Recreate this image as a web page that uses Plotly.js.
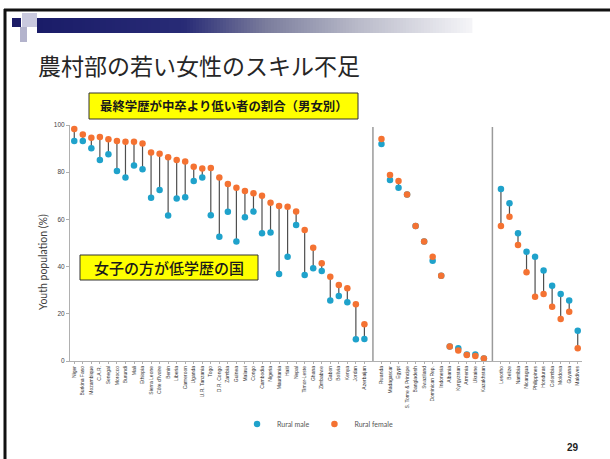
<!DOCTYPE html>
<html>
<head>
<meta charset="utf-8">
<script src="https://cdn.plot.ly/plotly-3.0.1.min.js"></script>
<style>
  html, body { margin: 0; padding: 0; background: #ffffff; }
  #chart { width: 610px; height: 459px; }
</style>
</head>
<body>
<div id="chart"></div>
<script>
// Share of rural youth whose highest education is below lower secondary (%)

// Group 1: countries where young women are less educated
const group1Countries = [
  "Niger", "Burkina Faso", "Mozambique", "C.A.R.", "Senegal", "Morocco", "Burundi",
  "Mali", "Ethiopia", "Sierra Leone", "Côte d'Ivoire", "Benin", "Liberia", "Cameroon",
  "Uganda", "U.R. Tanzania", "Togo", "D.R. Congo", "Zambia", "Guinea", "Malawi",
  "Congo", "Cambodia", "Nigeria", "Mauritania", "Haiti", "Nepal", "Timor-Leste",
  "Ghana", "Zimbabwe", "Gabon", "Bolivia", "Kenya", "Jordan", "Azerbaijan"
];
const group1Male = [93.2, 93.2, 90.1, 85.2, 87.6, 80.5, 77.8, 82.8, 81.2, 69.2, 72.5, 61.6,
  68.9, 69.4, 76.3, 77.8, 61.8, 52.7, 63.2, 50.6, 60.9, 63.3, 54.1, 54.4, 36.9, 44.2, 57.6,
  36.4, 39.3, 38.1, 25.6, 27.5, 24.9, 9.2, 9.3];
const group1Female = [98.3, 96.0, 94.6, 94.9, 94.0, 93.2, 92.9, 92.9, 92.2, 88.3, 87.8, 86.3,
  85.2, 84.5, 82.3, 81.6, 81.8, 77.8, 75.0, 73.4, 72.0, 71.1, 70.0, 67.1, 65.7, 65.4, 63.3,
  55.5, 48.0, 41.4, 35.7, 32.2, 30.8, 24.0, 15.6];

// Group 2: little or no gap between men and women
const group2Countries = [
  "Rwanda", "Madagascar", "Egypt", "S. Tome & Principe", "Bangladesh", "Swaziland",
  "Dominican Rep.", "Indonesia", "Albania", "Kyrgyzstan", "Armenia", "Ukraine", "Kazakhstan"
];
const group2Male = [91.9, 76.7, 73.4, 70.6, 57.2, 50.6, 42.5, 36.1, 6.1, 5.4, 2.8, 2.8, 1.1];
const group2Female = [94.1, 78.8, 76.3, 70.6, 57.2, 50.6, 44.2, 36.1, 6.1, 4.4, 2.5, 2.1, 1.1];

// Group 3: young men are less educated
const group3Countries = [
  "Lesotho", "Belize", "Namibia", "Nicaragua", "Philippines", "Honduras",
  "Colombia", "Moldova", "Guyana", "Maldives"
];
const group3Male = [72.9, 66.8, 54.1, 46.3, 44.2, 38.3, 31.9, 28.4, 25.6, 12.8];
const group3Female = [57.2, 61.1, 49.2, 37.6, 27.2, 28.4, 23.0, 17.8, 20.9, 5.4];

const yTicks = [0, 20, 40, 60, 80, 100];

// ---- assemble positions: each group sits after a one-slot gap with a divider
const groups = [
  { names: group1Countries, male: group1Male, female: group1Female },
  { names: group2Countries, male: group2Male, female: group2Female },
  { names: group3Countries, male: group3Male, female: group3Female }
];
const xs = [], names = [], males = [], females = [], dividers = [];
let pos = 0;
groups.forEach((g, gi) => {
  if (gi > 0) { dividers.push(pos); pos += 1; }
  g.names.forEach((n, i) => {
    xs.push(pos); names.push(n); males.push(g.male[i]); females.push(g.female[i]);
    pos += 1;
  });
});

// connector segments between the two values of each country
const segX = [], segY = [];
xs.forEach((x, i) => { segX.push(x, x, null); segY.push(males[i], females[i], null); });

const maleColor = '#1fa2cb';
const femaleColor = '#f47232';

const traces = [
  { x: segX, y: segY, mode: 'lines', line: { color: '#4f4f4f', width: 1.2 },
    hoverinfo: 'skip', showlegend: false },
  { x: xs, y: males, name: 'Rural male', mode: 'markers',
    marker: { color: maleColor, size: 6.5 } },
  { x: xs, y: females, name: 'Rural female', mode: 'markers',
    marker: { color: femaleColor, size: 6.5 } }
];

// ---- slide geometry helpers (pixel -> paper)
const W = 610, H = 459;
const M = { l: 70, r: 28, t: 125, b: 98 };
const PW = W - M.l - M.r, PH = H - M.t - M.b;
const px = v => (v - M.l) / PW;
const py = v => (H - M.b - v) / PH;

const shapes = [];
const annotations = [];

// frame of the slide
shapes.push({ type: 'line', xref: 'paper', yref: 'paper', x0: px(4), x1: px(612), y0: py(10), y1: py(10),
  line: { color: '#111111', width: 3 } });
shapes.push({ type: 'line', xref: 'paper', yref: 'paper', x0: px(5), x1: px(5), y0: py(9), y1: py(462),
  line: { color: '#111111', width: 3 } });

// header ornament: squares and fading bar
function rectPx(x0, y0, x1, y1, color) {
  shapes.push({ type: 'rect', xref: 'paper', yref: 'paper', x0: px(x0), x1: px(x1), y0: py(y1), y1: py(y0),
    fillcolor: color, line: { width: 0 } });
}
const stops = [[37, [26, 28, 104]], [185, [40, 43, 118]], [265, [122, 124, 156]],
  [360, [186, 187, 202]], [472, [245, 245, 248]]];
function barColor(x) {
  for (let i = 0; i < stops.length - 1; i++) {
    const [xa, ca] = stops[i], [xb, cb] = stops[i + 1];
    if (x <= xb) {
      const t = (x - xa) / (xb - xa);
      const c = ca.map((v, k) => Math.round(v + (cb[k] - v) * t));
      return 'rgb(' + c.join(',') + ')';
    }
  }
  return 'rgb(245,245,248)';
}
for (let x = 37; x < 472; x += 3) rectPx(x, 18, x + 3.4, 33, barColor(x + 1.5));
rectPx(22, 13, 37, 27, '#c9c9de');
rectPx(20, 27, 27, 42, '#b3b3cc');
rectPx(12, 18, 21, 27, '#1c1c66');

// yellow call-out boxes
rectPx(89, 93, 358, 119, '#ffff00');
shapes[shapes.length - 1].line = { color: '#333333', width: 1 };
rectPx(80, 255, 258, 280, '#ffff00');
shapes[shapes.length - 1].line = { color: '#333333', width: 1 };

// group dividers
dividers.forEach(d => shapes.push({ type: 'line', xref: 'x', yref: 'paper', x0: d, x1: d,
  y0: 0, y1: py(127), line: { color: '#9a9a9a', width: 1.5 } }));

const jp = '"Noto Sans CJK JP", "Noto Sans", sans-serif';
annotations.push({ xref: 'paper', yref: 'paper', x: px(36), y: py(65), xanchor: 'left', yanchor: 'middle',
  text: '農村部の若い女性のスキル不足', showarrow: false,
  font: { family: jp, size: 23, color: '#262626' } });
annotations.push({ xref: 'paper', yref: 'paper', x: px(223.5), y: py(106), xanchor: 'center', yanchor: 'middle',
  text: '<b>最終学歴が中卒より低い者の割合（男女別）</b>', showarrow: false,
  font: { family: jp, size: 12.4, color: '#1a1a1a' } });
annotations.push({ xref: 'paper', yref: 'paper', x: px(169), y: py(267.5), xanchor: 'center', yanchor: 'middle',
  text: '女子の方が低学歴の国', showarrow: false,
  font: { family: jp, size: 15, color: '#1a1a1a', weight: 500 } });
annotations.push({ xref: 'paper', yref: 'paper', x: px(43), y: py(262), xanchor: 'center', yanchor: 'middle',
  text: 'Youth population (%)', textangle: -90, showarrow: false,
  font: { family: 'Lato, "Open Sans", sans-serif', size: 10.5, color: '#404040' } });
annotations.push({ xref: 'paper', yref: 'paper', x: px(573), y: py(447), xanchor: 'center', yanchor: 'middle',
  text: '<b>29</b>', showarrow: false,
  font: { family: '"Liberation Sans", Arial, sans-serif', size: 10, color: '#222222' } });

const layout = {
  width: W, height: H,
  margin: M,
  paper_bgcolor: '#ffffff', plot_bgcolor: '#ffffff',
  showlegend: true,
  legend: { orientation: 'h', x: px(237), y: py(424), xanchor: 'left', yanchor: 'middle',
    font: { family: 'Lato, "Open Sans", sans-serif', size: 7, color: '#555555' },
    itemwidth: 30, bgcolor: 'rgba(0,0,0,0)' },
  xaxis: {
    range: [-0.5, pos - 0.5], tickmode: 'array', tickvals: xs, ticktext: names,
    tickangle: -90, tickfont: { family: '"Liberation Sans", Arial, sans-serif', size: 5, color: '#333333' },
    showgrid: false, zeroline: false, showline: true, linecolor: '#b0b0b0', linewidth: 1,
    ticks: 'outside', ticklen: 2, tickcolor: '#b0b0b0'
  },
  yaxis: {
    range: [0, 100], tickmode: 'array', tickvals: yTicks,
    tickfont: { family: '"Liberation Sans", Arial, sans-serif', size: 6.5, color: '#444444' },
    showgrid: false, zeroline: false, showline: true, linecolor: '#b0b0b0', linewidth: 1,
    ticks: 'outside', ticklen: 3, tickcolor: '#b0b0b0'
  },
  shapes: shapes,
  annotations: annotations
};

Plotly.newPlot('chart', traces, layout, { displayModeBar: false, staticPlot: true });
</script>
</body>
</html>
